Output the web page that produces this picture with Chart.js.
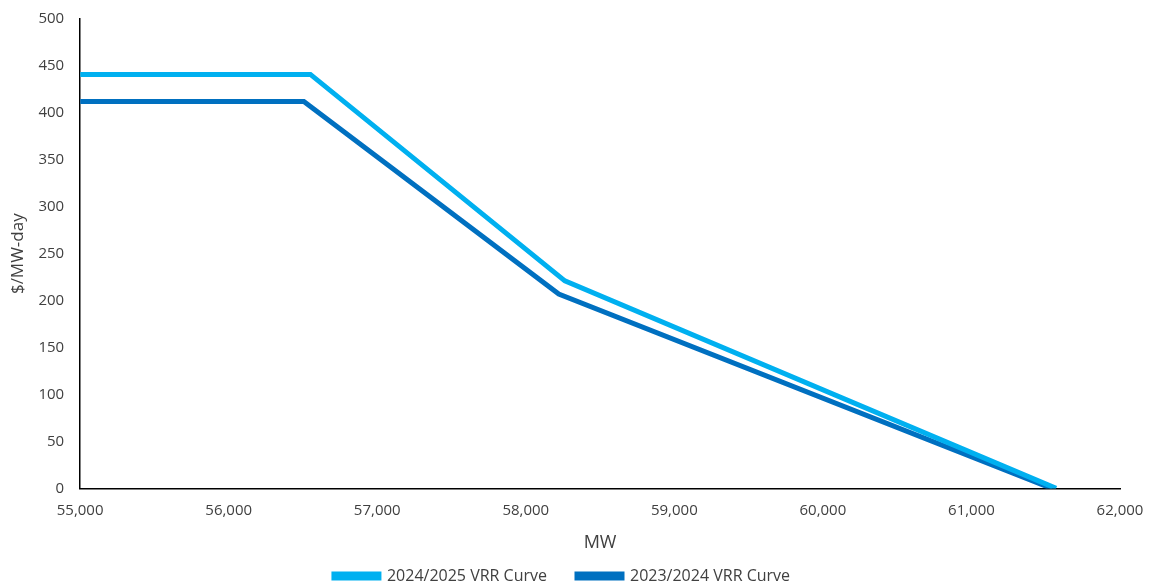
<!DOCTYPE html>
<html><head><meta charset="utf-8">
<script src="https://cdn.jsdelivr.net/npm/chart.js@4"></script>
<style>html,body{margin:0;padding:0;background:#fff}#wrap{width:1156px;height:586px}</style>
</head><body><div id="wrap"><canvas id="c" width="1156" height="586"></canvas></div>
<script>
const seriesNames = ["2024/2025 VRR Curve", "2023/2024 VRR Curve"];
const mw2425 = [55000, 56550, 58263, 61570];
const price2425 = [441, 441, 221, 0];
const mw2324 = [55000, 56506, 58222, 61540];
const price2324 = [412, 412, 207, 0];
const colors = ["#00B0F0", "#0070C0"];

const toPts = (xs, ys) => xs.map((x, i) => ({x: x, y: ys[i]}));
const font = "'Open Sans', 'Noto Sans', sans-serif";

new Chart(document.getElementById('c'), {
  type: 'scatter',
  data: {
    datasets: [
      {label: seriesNames[0], data: toPts(mw2425, price2425), showLine: true, borderColor: colors[0], backgroundColor: colors[0], borderWidth: 5, pointRadius: 0, borderJoinStyle: 'miter', borderCapStyle: 'butt'},
      {label: seriesNames[1], data: toPts(mw2324, price2324), showLine: true, borderColor: colors[1], backgroundColor: colors[1], borderWidth: 5, pointRadius: 0, borderJoinStyle: 'miter', borderCapStyle: 'butt'}
    ]
  },
  options: {
    responsive: false,
    animation: false,
    layout: {padding: {left: 4, right: 36, top: 12, bottom: -8}},
    plugins: {
      legend: {
        position: 'bottom',
        labels: {boxWidth: 45, boxHeight: 4, padding: 30, color: '#404040', font: {family: font, size: 16}}
      },
      tooltip: {enabled: false}
    },
    scales: {
      x: {
        type: 'linear', min: 55000, max: 62000,
        ticks: {stepSize: 1000, color: '#404040', font: {family: font, size: 15}, callback: v => v.toLocaleString('en-US'), padding: 7},
        grid: {display: false, drawTicks: true, tickLength: 6, tickColor: '#000'},
        border: {color: '#000', width: 1.5},
        title: {display: true, text: 'MW', color: '#404040', font: {family: font, size: 18}, padding: {top: 6, bottom: -16}}
      },
      y: {
        min: 0, max: 500,
        ticks: {stepSize: 50, color: '#404040', font: {family: font, size: 15}, padding: 10},
        grid: {display: false, drawTicks: true, tickLength: 6, tickColor: '#000'},
        border: {color: '#000', width: 1.5},
        title: {display: true, text: '$/MW-day', color: '#404040', font: {family: font, size: 17}, padding: {top: 4, bottom: 0}}
      }
    }
  }
});
</script></body></html>
